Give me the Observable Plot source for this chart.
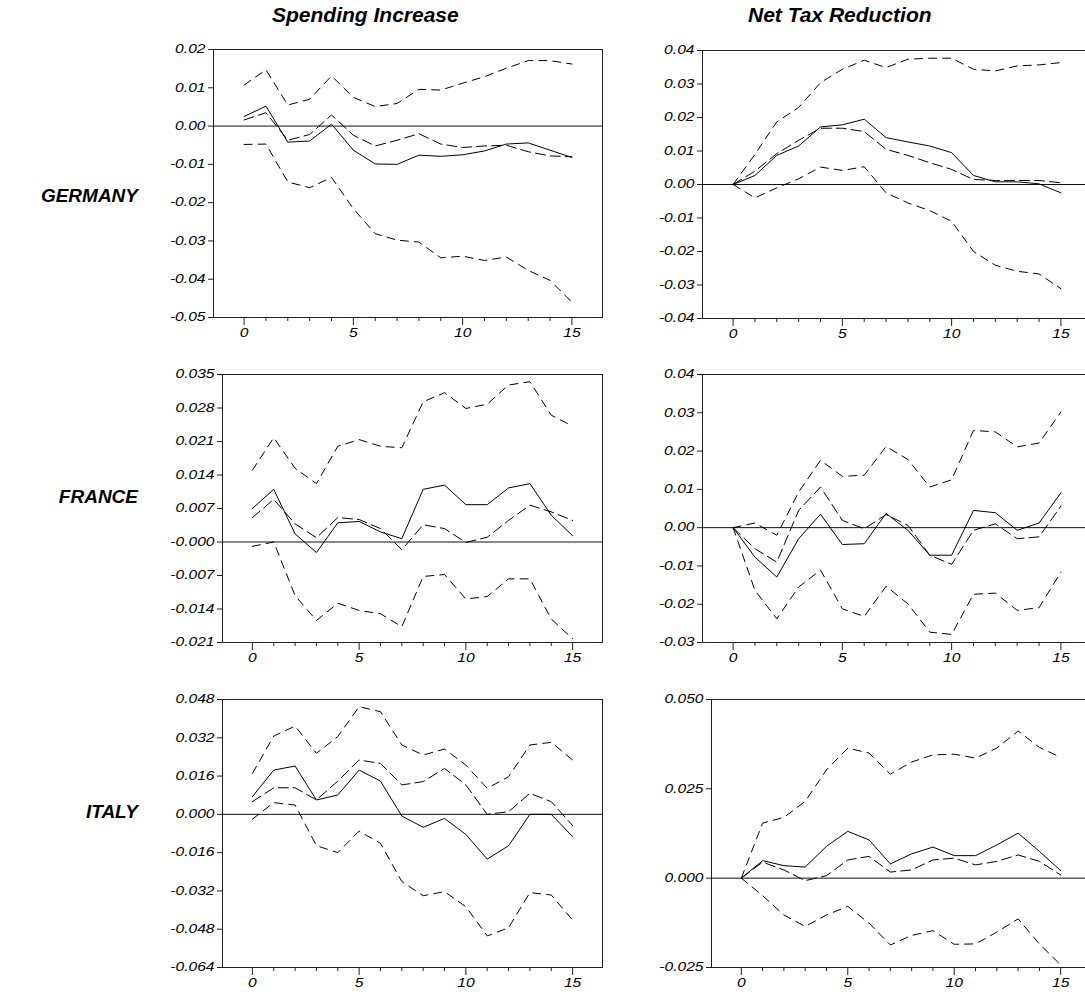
<!DOCTYPE html>
<html><head><meta charset="utf-8">
<script src="https://cdn.jsdelivr.net/npm/d3@7"></script>
<script src="https://cdn.jsdelivr.net/npm/@observablehq/plot@0.6"></script>
<style>
html,body{margin:0;padding:0;background:#fff;width:1085px;height:994px;overflow:hidden;}
#root{position:relative;width:1085px;height:994px;overflow:hidden;}
.lbl{position:absolute;font-family:"Liberation Sans",Arial,sans-serif;font-weight:bold;font-style:italic;font-size:21px;line-height:22px;color:#000;white-space:nowrap;}
.row{font-size:19px;line-height:20px;}
.panel{position:absolute;}
</style></head><body><div id="root"></div>
<script>
// ---------- data ----------
const horizon = [0,1,2,3,4,5,6,7,8,9,10,11,12,13,14,15];
const majorTicks = [0,5,10,15];
const columnTitles = ["Spending Increase", "Net Tax Reduction"];
const rowTitles = ["GERMANY", "FRANCE", "ITALY"];

// Germany, spending increase
const deSpendIrf = [0.0025,0.0052,-0.0042,-0.0039,0.0005,-0.0063,-0.0099,-0.0100,-0.0076,-0.0079,-0.0075,-0.0065,-0.0047,-0.0044,-0.0063,-0.0082];
const deSpendAlt = [0.0016,0.0035,-0.0037,-0.0022,0.0029,-0.0024,-0.0052,-0.0037,-0.0020,-0.0047,-0.0056,-0.0052,-0.0050,-0.0067,-0.0078,-0.0080];
const deSpendUp  = [0.0107,0.0147,0.0055,0.0070,0.0131,0.0075,0.0051,0.0059,0.0096,0.0094,0.0112,0.0129,0.0151,0.0171,0.0171,0.0162];
const deSpendLo  = [-0.0048,-0.0047,-0.0146,-0.0161,-0.0134,-0.0216,-0.0281,-0.0298,-0.0303,-0.0344,-0.0340,-0.0351,-0.0342,-0.0377,-0.0403,-0.0460];
const deSpendTicks = ["0.02","0.01","0.00","-0.01","-0.02","-0.03","-0.04","-0.05"];

// Germany, net tax reduction
const deTaxIrf = [0,0.0027,0.0087,0.0115,0.0172,0.0178,0.0195,0.0140,0.0127,0.0115,0.0095,0.0027,0.0008,0.0008,0.0002,-0.0025];
const deTaxAlt = [0,0.0040,0.0092,0.0132,0.0168,0.0168,0.0158,0.0105,0.0087,0.0065,0.0045,0.0015,0.0012,0.0012,0.0012,0.0005];
const deTaxUp  = [0,0.0090,0.0187,0.0230,0.0304,0.0344,0.0371,0.0349,0.0374,0.0377,0.0377,0.0344,0.0339,0.0354,0.0357,0.0364];
const deTaxLo  = [0,-0.0040,-0.0010,0.0017,0.0052,0.0042,0.0053,-0.0025,-0.0055,-0.0078,-0.0110,-0.0200,-0.0241,-0.0259,-0.0267,-0.0311];
const deTaxTicks = ["0.04","0.03","0.02","0.01","0.00","-0.01","-0.02","-0.03","-0.04"];

// France, spending increase
const frSpendIrf = [0.0070,0.0110,0.0017,-0.0022,0.0040,0.0043,0.0021,0.0007,0.0110,0.0119,0.0078,0.0078,0.0113,0.0122,0.0056,0.0013];
const frSpendAlt = [0.0051,0.0089,0.0038,0.0009,0.0051,0.0047,0.0028,-0.0016,0.0036,0.0028,-0.0001,0.0010,0.0045,0.0077,0.0063,0.0045];
const frSpendUp  = [0.0150,0.0218,0.0154,0.0122,0.0200,0.0214,0.0200,0.0197,0.0293,0.0312,0.0279,0.0288,0.0328,0.0335,0.0265,0.0242];
const frSpendLo  = [-0.0009,0.0000,-0.0112,-0.0164,-0.0128,-0.0143,-0.0150,-0.0177,-0.0072,-0.0068,-0.0119,-0.0114,-0.0077,-0.0077,-0.0161,-0.0202];
const frSpendTicks = ["0.035","0.028","0.021","0.014","0.007","-0.000","-0.007","-0.014","-0.021"];

// France, net tax reduction
const frTaxIrf = [0,-0.0077,-0.0129,-0.0029,0.0035,-0.0044,-0.0042,0.0037,-0.0007,-0.0072,-0.0072,0.0045,0.0039,-0.0007,0.0012,0.0091];
const frTaxAlt = [0,-0.0055,-0.0090,0.0045,0.0106,0.0019,-0.0003,0.0034,0.0006,-0.0072,-0.0096,-0.0007,0.0010,-0.0029,-0.0024,0.0056];
const frTaxUp  = [0,0.0012,-0.0020,0.0093,0.0176,0.0134,0.0137,0.0212,0.0178,0.0106,0.0125,0.0254,0.0250,0.0211,0.0221,0.0302];
const frTaxLo  = [0,-0.0164,-0.0238,-0.0155,-0.0111,-0.0212,-0.0232,-0.0153,-0.0199,-0.0273,-0.0279,-0.0174,-0.0171,-0.0216,-0.0209,-0.0116];
const frTaxTicks = ["0.04","0.03","0.02","0.01","0.00","-0.01","-0.02","-0.03"];

// Italy, spending increase
const itSpendIrf = [0.0074,0.0185,0.0202,0.0060,0.0081,0.0185,0.0139,-0.0007,-0.0054,-0.0017,-0.0084,-0.0187,-0.0131,0.0000,0.0000,-0.0093];
const itSpendAlt = [0.0053,0.0111,0.0111,0.0060,0.0139,0.0227,0.0213,0.0123,0.0137,0.0192,0.0123,0.0000,0.0011,0.0088,0.0053,-0.0047];
const itSpendUp  = [0.0171,0.0327,0.0369,0.0255,0.0325,0.0450,0.0429,0.0290,0.0248,0.0273,0.0206,0.0109,0.0157,0.0290,0.0301,0.0227];
const itSpendLo  = [-0.0020,0.0049,0.0039,-0.0131,-0.0160,-0.0070,-0.0121,-0.0281,-0.0340,-0.0323,-0.0386,-0.0508,-0.0474,-0.0327,-0.0337,-0.0442];
const itSpendTicks = ["0.048","0.032","0.016","0.000","-0.016","-0.032","-0.048","-0.064"];

// Italy, net tax reduction
const itTaxIrf = [0,0.0049,0.0035,0.0031,0.0089,0.0131,0.0107,0.0040,0.0068,0.0087,0.0063,0.0063,0.0093,0.0126,0.0075,0.0021];
const itTaxAlt = [0,0.0045,0.0023,-0.0007,0.0007,0.0051,0.0061,0.0017,0.0023,0.0051,0.0056,0.0037,0.0047,0.0065,0.0047,0.0009];
const itTaxUp  = [0,0.0154,0.0170,0.0215,0.0303,0.0364,0.0350,0.0291,0.0325,0.0345,0.0347,0.0336,0.0364,0.0412,0.0366,0.0338];
const itTaxLo  = [0,-0.0049,-0.0103,-0.0135,-0.0103,-0.0079,-0.0126,-0.0187,-0.0160,-0.0147,-0.0185,-0.0184,-0.0151,-0.0114,-0.0184,-0.0243];
const itTaxTicks = ["0.050","0.025","0.000","-0.025"];

// ---------- layout ----------
const root = document.getElementById("root");
function addLabel(text, css, cls) {
  const d = document.createElement("div");
  d.className = "lbl" + (cls ? " " + cls : "");
  d.textContent = text;
  Object.assign(d.style, css);
  root.appendChild(d);
}
addLabel(columnTitles[0], {left: "272px", top: "4px"});
addLabel(columnTitles[1], {left: "748px", top: "4px"});
addLabel(rowTitles[0], {right: (1085 - 138) + "px", top: "186px"}, "row");
addLabel(rowTitles[1], {right: (1085 - 138) + "px", top: "487px"}, "row");
addLabel(rowTitles[2], {right: (1085 - 138) + "px", top: "802px"}, "row");

const panels = [
  {irf: deSpendIrf, alt: deSpendAlt, up: deSpendUp, lo: deSpendLo, ticks: deSpendTicks, frameLeft: 213, frameRight: 602, frameTop: 49},
  {irf: deTaxIrf, alt: deTaxAlt, up: deTaxUp, lo: deTaxLo, ticks: deTaxTicks, frameLeft: 702, frameRight: 1091, frameTop: 50},
  {irf: frSpendIrf, alt: frSpendAlt, up: frSpendUp, lo: frSpendLo, ticks: frSpendTicks, frameLeft: 222, frameRight: 602, frameTop: 374},
  {irf: frTaxIrf, alt: frTaxAlt, up: frTaxUp, lo: frTaxLo, ticks: frTaxTicks, frameLeft: 702, frameRight: 1091, frameTop: 374},
  {irf: itSpendIrf, alt: itSpendAlt, up: itSpendUp, lo: itSpendLo, ticks: itSpendTicks, frameLeft: 222, frameRight: 602, frameTop: 699},
  {irf: itTaxIrf, alt: itTaxAlt, up: itTaxUp, lo: itTaxLo, ticks: itTaxTicks, frameLeft: 711, frameRight: 1090, frameTop: 699}
];

const frameHeight = 268;
const mTop = 10, mBottom = 30, mRight = 1;

for (const p of panels) {
  const mLeft = 70;
  const tickVals = p.ticks.map(Number);
  const labelOf = new Map(tickVals.map((v, i) => [v, p.ticks[i]]));
  const series = (arr) => horizon.map((h, i) => ({h, v: arr[i]}));
  const chart = Plot.plot({
    width: mLeft + (p.frameRight - p.frameLeft) + mRight,
    height: mTop + frameHeight + mBottom,
    marginLeft: mLeft, marginRight: mRight, marginTop: mTop, marginBottom: mBottom,
    style: {fontFamily: "'Liberation Sans', Arial, sans-serif", fontSize: "12px", fontStyle: "italic", color: "#000", background: "transparent", overflow: "visible"},
    x: {domain: [-1.4, 16.4]},
    y: {domain: [d3.min(tickVals), d3.max(tickVals)]},
    marks: [
      Plot.frame({stroke: "#222", strokeWidth: 1}),
      Plot.ruleY([0], {stroke: "#111", strokeWidth: 1}),
      Plot.axisX({ticks: majorTicks, tickSize: 8, tickPadding: 3, tickFormat: d => String(d), label: null, stroke: "#222"}),
      Plot.axisX({ticks: horizon.filter(h => !majorTicks.includes(h)), tickSize: 4, tickFormat: () => "", label: null, stroke: "#222"}),
      Plot.axisY({ticks: tickVals, tickSize: 5, tickPadding: 3, tickFormat: v => labelOf.get(v) ?? labelOf.get(-v), label: null, stroke: "#222"}),
      Plot.line(series(p.up), {x: "h", y: "v", stroke: "#000", strokeWidth: 1, strokeDasharray: "8,6"}),
      Plot.line(series(p.lo), {x: "h", y: "v", stroke: "#000", strokeWidth: 1, strokeDasharray: "8,6"}),
      Plot.line(series(p.alt), {x: "h", y: "v", stroke: "#000", strokeWidth: 1, strokeDasharray: "10,5"}),
      Plot.line(series(p.irf), {x: "h", y: "v", stroke: "#000", strokeWidth: 1})
    ]
  });
  chart.classList.add("panel");
  chart.style.left = (p.frameLeft - mLeft) + "px";
  chart.style.top = (p.frameTop - mTop) + "px";
  root.appendChild(chart);
  // widen tick labels horizontally, as in the reference typeface
  chart.querySelectorAll('g[aria-label="y-axis tick label"] text, g[aria-label="x-axis tick label"] text').forEach(t => {
    const w = t.getComputedTextLength();
    if (w > 0) {
      t.setAttribute("textLength", (w * 1.3).toFixed(1));
      t.setAttribute("lengthAdjust", "spacingAndGlyphs");
    }
  });
}
</script>
</body></html>
